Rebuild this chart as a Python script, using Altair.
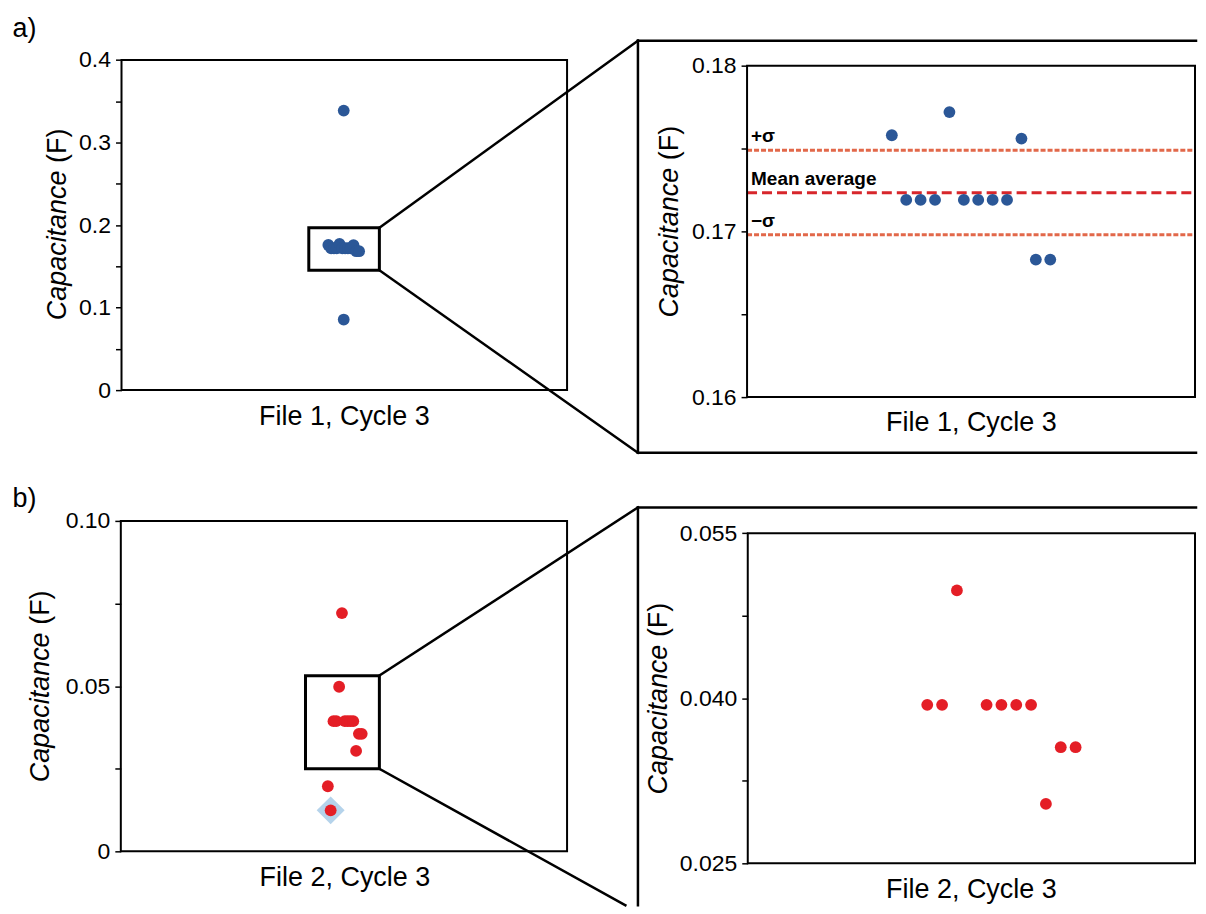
import altair as alt
import pandas as pd

# ---------------- data ----------------
file1_position = [1, 2, 3, 4, 5, 6, 7, 8, 9, 10, 11, 12, 6.5, 6.5]
file1_capacitance = [0.1758, 0.1719, 0.1719, 0.1719, 0.1772, 0.1719, 0.1719,
                     0.1719, 0.1719, 0.1756, 0.1683, 0.1683, 0.3387, 0.0855]

file2_position = [1, 2, 3, 5, 6, 7, 8, 9, 10, 11, 4, -1, 0]
file2_capacitance = [0.0394, 0.0394, 0.0498, 0.0394, 0.0394, 0.0394, 0.0394,
                     0.0304, 0.03555, 0.03555, 0.0721, 0.0197, 0.0124]
file2_flagged = [0, 0, 0, 0, 0, 0, 0, 0, 0, 0, 0, 0, 1]

stat_labels = ["+σ", "Mean average", "−σ"]
stat_values = [0.1749, 0.17233, 0.1698]
stat_kinds = ["sigma", "mean", "sigma"]

x_titles = ["File 1, Cycle 3", "File 2, Cycle 3"]
y_title_main = "Capacitance"
y_title_unit = "(F)"
panel_tags = ["a)", "b)"]

a_full_ticks = [0, 0.05, 0.1, 0.15, 0.2, 0.25, 0.3, 0.35, 0.4]
a_full_labels = {0: "0", 0.1: "0.1", 0.2: "0.2", 0.3: "0.3", 0.4: "0.4"}
a_zoom_ticks = [0.16, 0.165, 0.17, 0.175, 0.18]
a_zoom_labels = {0.16: "0.16", 0.17: "0.17", 0.18: "0.18"}
b_full_ticks = [0, 0.025, 0.05, 0.075, 0.1]
b_full_labels = {0: "0", 0.05: "0.05", 0.1: "0.10"}
b_zoom_ticks = [0.025, 0.0325, 0.04, 0.0475, 0.055]
b_zoom_labels = {0.025: "0.025", 0.04: "0.040", 0.055: "0.055"}

# ---------------- layout / style ----------------
W, H = 1190, 898
FONT = "Liberation Sans"
BLUE = "#2B5797"
RED = "#E41E26"
DIAMOND = "#B5D3EB"
SIGMA_C = "#E2684A"
MEAN_C = "#D7262B"
DOT = 140

P = {
    "a_full": dict(xdom=[-73, 86.4], ydom=[0, 0.4], xr=[113.7, 560], yr=[51.3, 382]),
    "a_zoom": dict(xdom=[-9.05, 22.05], ydom=[0.16, 0.18], xr=[740.3, 1189], yr=[57, 389]),
    "b_full": dict(xdom=[-74.3, 83.7], ydom=[0, 0.1], xr=[113, 560], yr=[513, 844]),
    "b_zoom": dict(xdom=[-11.1, 19.05], ydom=[0.025, 0.055], xr=[741, 1189], yr=[525.3, 856]),
}


def label_expr(labels):
    parts = [f"datum.value === {k!r} ? '{v}'" for k, v in labels.items()]
    return " : ".join(parts) + " : ''"


def encoders(p, ticks, labels):
    sx = alt.Scale(domain=p["xdom"], range=p["xr"], nice=False, zero=False)
    sy = alt.Scale(domain=p["ydom"], range=[p["yr"][1], p["yr"][0]], nice=False, zero=False)
    ax = alt.Axis(orient="left", offset=-p["xr"][0], values=ticks,
                  labelExpr=label_expr(labels), title=None, domain=False, grid=False,
                  ticks=True, tickSize=6, tickWidth=1.5, tickColor="black",
                  labelFont=FONT, labelFontSize=23, labelColor="black",
                  labelPadding=5, labelOverlap=False)

    def X(f):
        return alt.X(f, type="quantitative", scale=sx, axis=None)

    def Y(f):
        return alt.Y(f, type="quantitative", scale=sy, axis=ax)

    return X, Y


def frame_layer(p, X, Y):
    fdf = pd.DataFrame({"xlo": [p["xdom"][0]], "xhi": [p["xdom"][1]],
                        "ylo": [p["ydom"][0]], "yhi": [p["ydom"][1]]})
    return alt.Chart(fdf).mark_rect(fillOpacity=0, stroke="black", strokeWidth=2).encode(
        x=X("xlo"), x2="xhi", y=Y("ylo"), y2="yhi")


df1 = pd.DataFrame({"idx": file1_position, "cap": file1_capacitance})
df2 = pd.DataFrame({"idx": file2_position, "cap": file2_capacitance, "flag": file2_flagged})

# ---- panel a, full range ----
p = P["a_full"]
X, Y = encoders(p, a_full_ticks, a_full_labels)
a_full = alt.layer(
    alt.Chart(df1).mark_circle(size=DOT, opacity=1, color=BLUE).encode(x=X("idx"), y=Y("cap")),
    frame_layer(p, X, Y),
)

# ---- panel a, zoom ----
p = P["a_zoom"]
X, Y = encoders(p, a_zoom_ticks, a_zoom_labels)
sdf = pd.DataFrame({"cap": stat_values, "name": stat_labels, "kind": stat_kinds,
                    "xlo": p["xdom"][0], "xhi": p["xdom"][1]})
a_zoom = alt.layer(
    alt.Chart(sdf).transform_filter("datum.kind === 'sigma'").mark_rule(
        color=SIGMA_C, strokeWidth=3, strokeDash=[5, 2]).encode(x=X("xlo"), x2="xhi", y=Y("cap")),
    alt.Chart(sdf).transform_filter("datum.kind === 'mean'").mark_rule(
        color=MEAN_C, strokeWidth=3, strokeDash=[10, 5]).encode(x=X("xlo"), x2="xhi", y=Y("cap")),
    alt.Chart(sdf).mark_text(align="left", baseline="alphabetic", dx=4, dy=-8, font=FONT,
                             fontSize=19, fontWeight="bold", color="black").encode(
        x=X("xlo"), y=Y("cap"), text="name:N"),
    alt.Chart(df1).transform_filter(
        f"datum.cap >= {p['ydom'][0]} && datum.cap <= {p['ydom'][1]}").mark_circle(
        size=DOT, opacity=1, color=BLUE).encode(x=X("idx"), y=Y("cap")),
    frame_layer(p, X, Y),
)

# ---- panel b, full range ----
p = P["b_full"]
X, Y = encoders(p, b_full_ticks, b_full_labels)
b_full = alt.layer(
    alt.Chart(df2).transform_filter("datum.flag === 1").mark_point(
        shape="diamond", filled=True, size=784, color=DIAMOND, opacity=1).encode(x=X("idx"), y=Y("cap")),
    alt.Chart(df2).mark_circle(size=DOT, opacity=1, color=RED).encode(x=X("idx"), y=Y("cap")),
    frame_layer(p, X, Y),
)

# ---- panel b, zoom ----
p = P["b_zoom"]
X, Y = encoders(p, b_zoom_ticks, b_zoom_labels)
b_zoom = alt.layer(
    alt.Chart(df2).transform_filter(
        f"datum.cap >= {p['ydom'][0]} && datum.cap <= {p['ydom'][1]}").mark_circle(
        size=DOT, opacity=1, color=RED).encode(x=X("idx"), y=Y("cap")),
    frame_layer(p, X, Y),
)


# ---------------- decorations (pixel space) ----------------
def seg_layer(segments, width):
    d = pd.DataFrame(segments, columns=["x", "y", "x2", "y2"])
    return alt.Chart(d).mark_rule(color="black", strokeWidth=width, strokeCap="square").encode(
        x=alt.X("x:Q", scale=None, axis=None), y=alt.Y("y:Q", scale=None, axis=None),
        x2="x2:Q", y2="y2:Q")


def box_layer(boxes, width):
    d = pd.DataFrame(boxes, columns=["x", "y", "x2", "y2"])
    return alt.Chart(d).mark_rect(fillOpacity=0, stroke="black", strokeWidth=width).encode(
        x=alt.X("x:Q", scale=None, axis=None), y=alt.Y("y:Q", scale=None, axis=None),
        x2="x2:Q", y2="y2:Q")


def text_layer(txt, x, y, **kw):
    return alt.Chart(pd.DataFrame({"t": [txt]})).mark_text(font=FONT, color="black", **kw).encode(
        x=alt.value(x), y=alt.value(y), text="t:N")


inset_boxes = [(301.3, 219.3, 372, 262), (298, 668, 372, 761.3)]
connectors = [(372, 219.3, 631, 32), (372, 262, 631, 444.7),
              (372, 668, 631, 499.5), (372, 761.3, 618.4, 898)]
outer_frames = [(631, 32, 1190, 32), (631, 32, 631, 444.7), (631, 444.7, 1190, 444.7),
                (631, 499.5, 1190, 499.5), (631, 499.5, 631, 898)]

deco = [
    seg_layer(connectors, 2.5),
    seg_layer(outer_frames, 2.5),
    box_layer(inset_boxes, 3),
]

# x titles
for (t, x, y) in [(x_titles[0], 337, 417), (x_titles[0], 965, 423),
                  (x_titles[1], 337.5, 878.7), (x_titles[1], 965, 890.3)]:
    deco.append(text_layer(t, x, y, fontSize=27, align="center", baseline="alphabetic"))

# y titles (italic quantity + upright unit)
for (bx, start) in [(58, 312), (671.3, 309.3), (41.3, 774.7), (660.6, 787)]:
    deco.append(text_layer(y_title_main, bx, start, fontSize=27, fontStyle="italic",
                           angle=270, align="left", baseline="alphabetic"))
    deco.append(text_layer(y_title_unit, bx, start - 157.6, fontSize=27,
                           angle=270, align="left", baseline="alphabetic"))

# panel tags
deco.append(text_layer(panel_tags[0], 4.5, 28.5, fontSize=27, align="left", baseline="alphabetic"))
deco.append(text_layer(panel_tags[1], 4.5, 499, fontSize=27, align="left", baseline="alphabetic"))

chart = alt.layer(*deco, a_full, a_zoom, b_full, b_zoom).resolve_scale(
    x="independent", y="independent"
).properties(width=W, height=H, padding=0).configure_view(stroke=None)

chart.save("out.html", embed_options={"renderer": "svg", "actions": False})
